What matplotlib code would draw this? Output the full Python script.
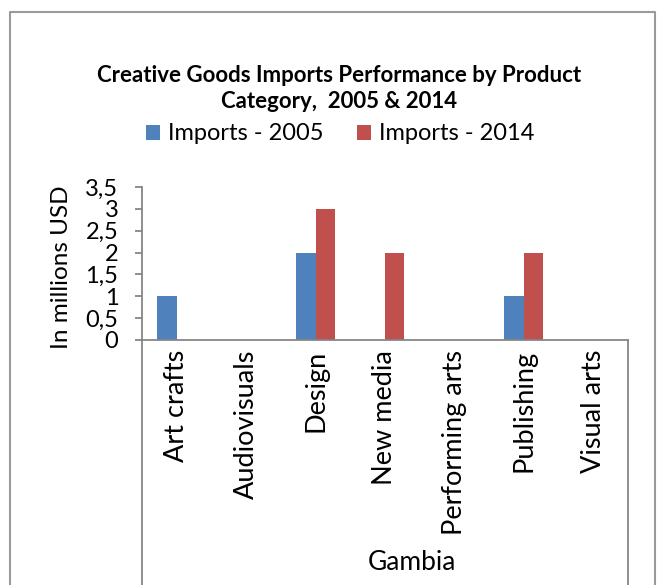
import matplotlib
matplotlib.use("Agg")
import matplotlib.pyplot as plt
from matplotlib.lines import Line2D
from matplotlib.ticker import FuncFormatter, MultipleLocator
import numpy as np

categories = ["Art crafts", "Audiovisuals", "Design", "New media",
              "Performing arts", "Publishing", "Visual arts"]
imports_2005 = [1, 0, 2, 0, 0, 1, 0]
imports_2014 = [0, 0, 3, 2, 0, 2, 0]
series_labels = ["Imports - 2005", "Imports - 2014"]
group_label = "Gambia"
title_lines = ["Creative Goods Imports Performance by Product",
               "Category,  2005 & 2014"]
y_label = "In millions USD"

plt.rcParams['font.family'] = ['Lato', 'DejaVu Sans']

W, H = 657, 585
fig = plt.figure(figsize=(W / 100, H / 100), dpi=100)

def fx(px):
    return px / W

def fy(py):
    return (H - py) / H

left, right, top, bottom = 142, 628, 187, 340
ax = fig.add_axes([fx(left), fy(bottom), fx(right) - fx(left), fy(top) - fy(bottom)])

x = np.arange(len(categories))
bw = 0.28
b1 = ax.bar(x - bw / 2, imports_2005, bw, color="#4F81BD", label=series_labels[0])
b2 = ax.bar(x + bw / 2, imports_2014, bw, color="#C0504D", label=series_labels[1])

ax.set_xlim(-0.5, len(categories) - 0.5)
ax.set_ylim(0, 3.5)
ax.yaxis.set_major_locator(MultipleLocator(0.5))
ax.yaxis.set_major_formatter(FuncFormatter(lambda v, p: f"{v:g}".replace(".", ",")))

axis_col = "#868686"
for s in ["top", "right"]:
    ax.spines[s].set_visible(False)
for s in ["left", "bottom"]:
    ax.spines[s].set_color(axis_col)
    ax.spines[s].set_linewidth(1.3)

ax.tick_params(axis="y", direction="out", length=5, width=1.3, color=axis_col,
               labelsize=17, pad=12)
ax.set_xticks(x)
ax.set_xticklabels(categories, rotation=90, va="top", ha="center")
ax.tick_params(axis="x", length=0, labelsize=19.5, pad=7)

# category group separators
for px in (left, right):
    fig.add_artist(Line2D([fx(px), fx(px)], [fy(bottom), 0], transform=fig.transFigure,
                          color=axis_col, lw=1.3))

fig.text(fx(412), fy(562), group_label, ha="center", va="center", fontsize=19)
fig.text(fx(62), fy(267), y_label, rotation=90, ha="center", va="center", fontsize=17.5)

fig.text(fx(339), fy(76), title_lines[0], ha="center", va="center", fontsize=16,
         fontweight="bold")
fig.text(fx(339), fy(102), title_lines[1], ha="center", va="center", fontsize=16,
         fontweight="bold")

fig.legend([b1, b2], series_labels, loc="center", bbox_to_anchor=(fx(340), fy(134)),
           ncol=2, frameon=False, fontsize=17, handlelength=0.6, handleheight=0.6,
           handletextpad=0.35, columnspacing=1.4, borderpad=0, borderaxespad=0)

# outer chart border
border_col = "#9a9a9a"
fig.add_artist(Line2D([fx(10), fx(10), fx(655), fx(655)], [0, fy(12), fy(12), 0],
                      transform=fig.transFigure, color=border_col, lw=1.5))

fig.savefig("out.png", dpi=100)
